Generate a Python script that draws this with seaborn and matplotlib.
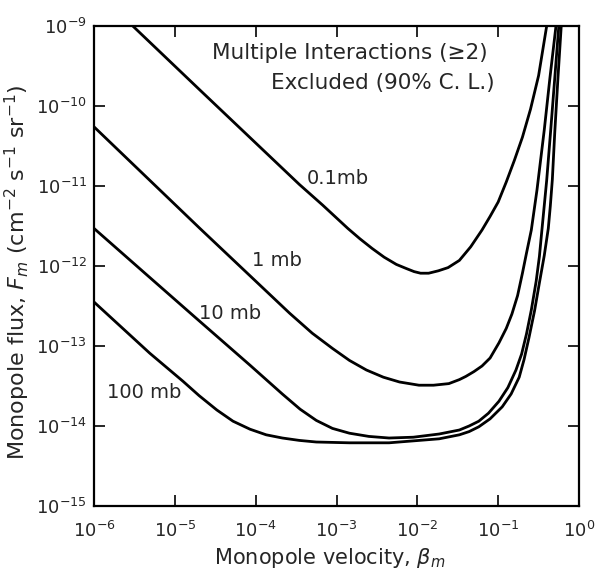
import numpy as np
import pandas as pd
import matplotlib
matplotlib.use("Agg")
import matplotlib.pyplot as plt
import seaborn as sns

# curves, as log10(beta) / log10(flux)
logb_01mb = [-5.52, -4.69, -3.95, -3.46, -3.17, -2.86, -2.71, -2.56, -2.41, -2.26, -2.14, -2.04, -1.96,
             -1.86, -1.74, -1.62, -1.48, -1.34, -1.20, -1.10, -1.00, -0.90, -0.80, -0.70, -0.60, -0.50, -0.40]
logf_01mb = [-9.00, -9.80, -10.51, -10.98, -11.24, -11.53, -11.66, -11.78, -11.89, -11.98, -12.03, -12.07, -12.09,
             -12.09, -12.06, -12.02, -11.93, -11.76, -11.55, -11.38, -11.20, -10.95, -10.68, -10.39, -10.04, -9.62, -9.00]

logb_1mb = [-6.00, -4.69, -3.58, -3.30, -3.05, -2.84, -2.63, -2.42, -2.22, -1.98, -1.80, -1.61, -1.48, -1.40,
            -1.30, -1.20, -1.10, -0.99, -0.90, -0.83, -0.76, -0.70, -0.65, -0.59, -0.52, -0.43, -0.36, -0.285]
logf_1mb = [-10.26, -11.53, -12.59, -12.84, -13.03, -13.18, -13.30, -13.39, -13.45, -13.49, -13.49, -13.47, -13.42, -13.38,
            -13.32, -13.25, -13.15, -12.96, -12.78, -12.60, -12.37, -12.09, -11.84, -11.55, -11.05, -10.30, -9.65, -9.00]

logb_10mb = [-6.00, -5.37, -4.75, -4.07, -3.67, -3.45, -3.25, -3.05, -2.84, -2.60, -2.35, -2.05, -1.73, -1.48,
             -1.36, -1.24, -1.12, -0.99, -0.88, -0.78, -0.71, -0.65, -0.59, -0.53, -0.49, -0.46, -0.40, -0.35,
             -0.30, -0.25]
logf_10mb = [-11.53, -12.09, -12.64, -13.24, -13.60, -13.79, -13.93, -14.03, -14.09, -14.13, -14.15, -14.14, -14.10, -14.05,
             -14.00, -13.94, -13.84, -13.69, -13.52, -13.30, -13.10, -12.85, -12.55, -12.19, -11.88, -11.56, -10.93, -10.30,
             -9.65, -9.00]

logb_100mb = [-6.00, -5.31, -4.90, -4.70, -4.48, -4.28, -4.07, -3.87, -3.67, -3.46, -3.25, -2.84, -2.35, -1.73,
              -1.48, -1.36, -1.24, -1.10, -0.95, -0.84, -0.74, -0.68, -0.62, -0.55, -0.49, -0.43, -0.38, -0.355,
              -0.33, -0.30, -0.26, -0.22]
logf_100mb = [-12.45, -13.09, -13.44, -13.62, -13.80, -13.94, -14.04, -14.11, -14.15, -14.18, -14.20, -14.21, -14.21, -14.16,
              -14.11, -14.07, -14.01, -13.91, -13.76, -13.60, -13.39, -13.17, -12.90, -12.56, -12.21, -11.87, -11.53, -11.25,
              -10.92, -10.33, -9.64, -9.00]

curve_names = ["0.1mb", "1 mb", "10 mb", "100 mb"]

frames = []
for name, lb, lf in zip(curve_names,
                        [logb_01mb, logb_1mb, logb_10mb, logb_100mb],
                        [logf_01mb, logf_1mb, logf_10mb, logf_100mb]):
    frames.append(pd.DataFrame({"beta": 10.0 ** np.array(lb),
                                "flux": 10.0 ** np.array(lf),
                                "curve": name}))
df = pd.concat(frames, ignore_index=True)

sns.set_style("ticks")
plt.rcParams["font.family"] = ["DejaVu Sans"]

fig = plt.figure(figsize=(5.96, 5.69), dpi=100)
ax = fig.add_axes([0.1577, 0.1107, 0.8138, 0.8436])

sns.lineplot(data=df, x="beta", y="flux", hue="curve", units="curve",
             estimator=None, palette=["black"] * 4, linewidth=2.0,
             legend=False, ax=ax)
for ln in ax.get_lines():
    ln.set_solid_joinstyle("round")

ax.set_xscale("log")
ax.set_yscale("log")
ax.set_xlim(1e-6, 1)
ax.set_ylim(1e-15, 1e-9)
ax.set_xticks([10.0 ** k for k in range(-6, 1)])
ax.set_yticks([10.0 ** k for k in range(-15, -8)])
ax.minorticks_off()
ax.tick_params(which="major", direction="in", length=8, width=1.4,
               top=True, right=True, labelsize=13)
ax.tick_params(axis="x", pad=11)
ax.tick_params(axis="y", pad=5)
for s in ax.spines.values():
    s.set_linewidth(1.6)
    s.set_color("black")

ax.set_xlabel(r"Monopole velocity, $\beta_m$", fontsize=15)
ax.set_ylabel(r"Monopole flux, $F_m$ (cm$^{-2}$ s$^{-1}$ sr$^{-1}$)", fontsize=16)
ax.xaxis.set_label_coords(0.487, -0.084)
ax.yaxis.set_label_coords(-0.128, 0.4875)

# curve labels
ax.text(10 ** -3.37, 10 ** -10.91, "0.1mb", fontsize=14, ha="left", va="center")
ax.text(10 ** -4.05, 10 ** -11.93, "1 mb", fontsize=14, ha="left", va="center")
ax.text(10 ** -4.70, 10 ** -12.59, "10 mb", fontsize=14, ha="left", va="center")
ax.text(10 ** -5.84, 10 ** -13.58, "100 mb", fontsize=14, ha="left", va="center")

ax.text(10 ** -2.83, 10 ** -9.34, "Multiple Interactions (\u22652)", fontsize=15.5, ha="center", va="center")
ax.text(10 ** -2.43, 10 ** -9.71, "Excluded (90% C. L.)", fontsize=15.5, ha="center", va="center")

fig.savefig("out.png", dpi=100)
